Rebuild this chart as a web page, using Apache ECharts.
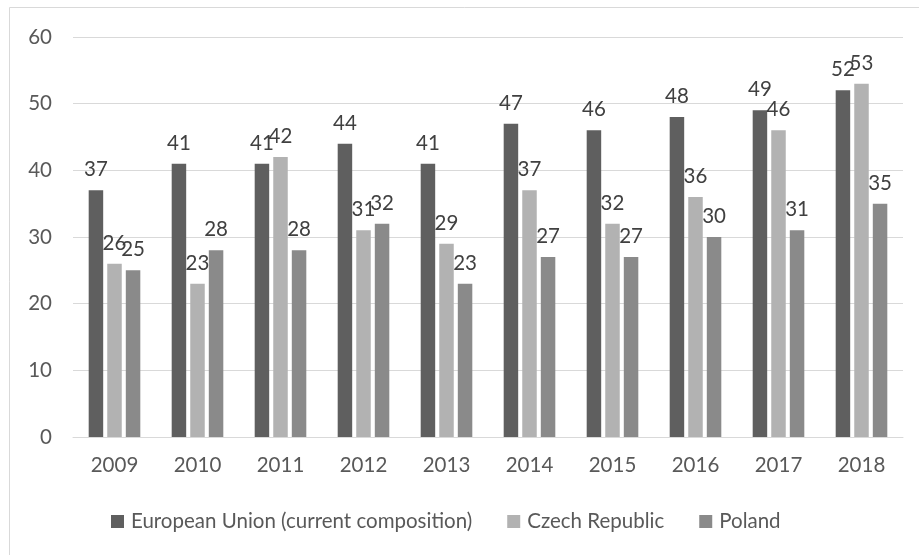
<!DOCTYPE html>
<html>
<head>
<meta charset="utf-8">
<script src="https://cdn.jsdelivr.net/npm/echarts@6/dist/echarts.min.js"></script>
<style>
  html, body { margin: 0; padding: 0; background: #fff; }
  #chart { width: 919px; height: 555px; }
</style>
</head>
<body>
<div id="chart"></div>
<script>
// Years on the category axis
const years = ['2009', '2010', '2011', '2012', '2013', '2014', '2015', '2016', '2017', '2018'];

// Series values
const euValues = [37, 41, 41, 44, 41, 47, 46, 48, 49, 52];
const czechValues = [26, 23, 42, 31, 29, 37, 32, 36, 46, 53];
const polandValues = [25, 28, 28, 32, 23, 27, 27, 30, 31, 35];

// Series names
const seriesNames = ['European Union (current composition)', 'Czech Republic', 'Poland'];

const FONT = 'Lato, "Liberation Sans", sans-serif';
const FONT_SIZE = 20.5;
const colors = ['#5f5f5f', '#b2b2b2', '#8a8a8a'];

function barSeries(name, data, color) {
  return {
    name: name,
    type: 'bar',
    data: data,
    barWidth: 14.5,
    barGap: '28%',
    itemStyle: { color: color },
    label: {
      show: true,
      position: 'top',
      distance: 10,
      color: '#404040',
      fontFamily: FONT,
      fontSize: FONT_SIZE
    }
  };
}

const chart = echarts.init(document.getElementById('chart'), null, { renderer: 'canvas' });
chart.setOption({
  animation: false,
  backgroundColor: '#ffffff',
  color: colors,
  textStyle: { fontFamily: FONT },
  graphic: [{
    type: 'rect',
    shape: { x: 9.5, y: 7.5, width: 930, height: 600 },
    style: { fill: 'none', stroke: '#d9d9d9', lineWidth: 1 },
    silent: true
  }],
  grid: { left: 73, right: 16, top: 37, bottom: 118, containLabel: false },
  legend: {
    left: 111,
    top: 511,
    padding: 0,
    itemWidth: 13,
    itemHeight: 13,
    itemGap: 35,
    icon: 'rect',
    textStyle: { color: '#595959', fontFamily: FONT, fontSize: FONT_SIZE, padding: [0, 0, 0, 2] },
    data: seriesNames
  },
  xAxis: {
    type: 'category',
    data: years,
    axisLine: { lineStyle: { color: '#d9d9d9', width: 1 } },
    axisTick: { show: false },
    axisLabel: { color: '#595959', fontFamily: FONT, fontSize: FONT_SIZE, margin: 18 }
  },
  yAxis: {
    type: 'value',
    min: 0,
    max: 60,
    interval: 10,
    axisLine: { show: false },
    axisTick: { show: false },
    splitLine: { lineStyle: { color: '#d9d9d9', width: 1 } },
    axisLabel: { color: '#595959', fontFamily: FONT, fontSize: FONT_SIZE, margin: 21 }
  },
  series: [
    barSeries(seriesNames[0], euValues, colors[0]),
    barSeries(seriesNames[1], czechValues, colors[1]),
    barSeries(seriesNames[2], polandValues, colors[2])
  ]
});
</script>
</body>
</html>
